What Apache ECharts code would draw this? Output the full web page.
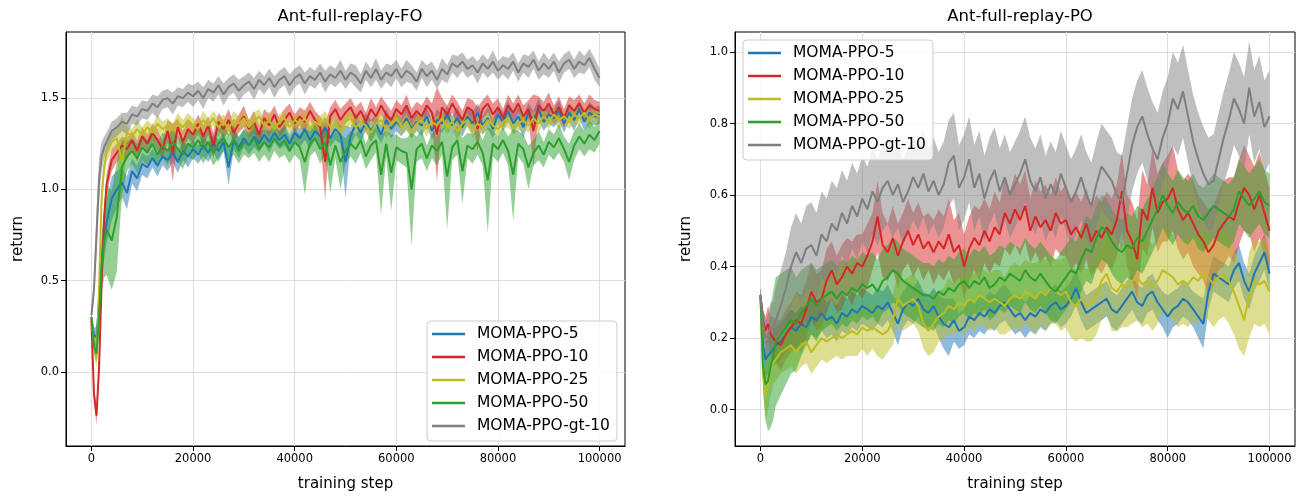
<!DOCTYPE html>
<html>
<head>
<meta charset="utf-8">
<script src="https://cdn.jsdelivr.net/npm/echarts@6/dist/echarts.min.js"></script>
<style>
html, body { margin: 0; padding: 0; background: #fff; }
#main { width: 1309px; height: 497px; }
</style>
</head>
<body>
<div id="main"></div>
<script>
// training steps: dense at the start, then every 1000
var steps = [0, 500, 1000, 1500, 2000, 2500, 3000];
for (var s = 4000; s <= 100000; s += 1000) steps.push(s);

var names = ['MOMA-PPO-5', 'MOMA-PPO-10', 'MOMA-PPO-25', 'MOMA-PPO-50', 'MOMA-PPO-gt-10'];
var colors = ['#1f77b4', '#d62728', '#bcbd22', '#2ca02c', '#7f7f7f'];

var xTicks = [0, 20000, 40000, 60000, 80000, 100000];
var foTicks = [0, 0.5, 1.0, 1.5];
var poTicks = [0, 0.2, 0.4, 0.6, 0.8, 1.0];

// ---- Ant-full-replay-FO ----
var fo5 = [0.30,0.20,0.19,0.38,0.60,0.74,0.82,
0.95,1.00,1.04,0.98,1.10,1.06,1.14,
1.12,1.17,1.13,1.18,1.16,1.20,1.15,1.21,1.18,1.22,
1.19,1.24,1.20,1.25,1.21,1.26,1.12,1.27,1.23,1.28,
1.24,1.29,1.25,1.30,1.26,1.31,1.27,1.30,1.25,1.31,
1.28,1.33,1.27,1.32,1.29,1.34,1.28,1.33,1.30,1.15,
1.29,1.36,1.31,1.37,1.32,1.36,1.30,1.38,1.33,1.37,
1.34,1.39,1.33,1.37,1.35,1.40,1.32,1.38,1.36,1.41,
1.35,1.39,1.34,1.40,1.36,1.42,1.35,1.39,1.33,1.41,
1.37,1.43,1.36,1.40,1.34,1.42,1.38,1.44,1.37,1.41,
1.39,1.43,1.36,1.42,1.38,1.44,1.37,1.42,1.40,1.41];
var fo5sd = [0.02,0.04,0.06,0.10,0.12,0.12,0.12,
0.12,0.10,0.08,0.09,0.07,0.07,0.06,
0.06,0.05,0.06,0.05,0.06,0.05,0.06,0.05,0.06,0.05,
0.05,0.06,0.05,0.05,0.06,0.05,0.10,0.05,0.06,0.05,
0.05,0.06,0.05,0.05,0.06,0.05,0.05,0.06,0.05,0.05,
0.05,0.06,0.05,0.05,0.06,0.05,0.05,0.06,0.05,0.20,
0.05,0.06,0.05,0.05,0.06,0.05,0.05,0.06,0.05,0.05,
0.05,0.06,0.05,0.05,0.06,0.05,0.05,0.06,0.05,0.05,
0.05,0.06,0.05,0.05,0.06,0.05,0.05,0.06,0.05,0.05,
0.05,0.06,0.05,0.05,0.06,0.05,0.05,0.06,0.05,0.05,
0.05,0.06,0.05,0.05,0.06,0.05,0.05,0.06,0.05,0.05];

var fo10 = [0.28,-0.12,-0.24,0.02,0.48,0.84,1.03,
1.16,1.20,1.24,1.22,1.27,1.21,1.29,
1.25,1.31,1.27,1.22,1.32,1.20,1.34,1.26,1.33,1.30,
1.36,1.29,1.35,1.24,1.37,1.33,1.38,1.31,1.36,1.40,
1.33,1.37,1.30,1.39,1.35,1.41,1.34,1.38,1.42,1.36,
1.40,1.37,1.43,1.38,1.34,1.15,1.40,1.44,1.38,1.42,
1.45,1.39,1.43,1.37,1.44,1.40,1.46,1.41,1.38,1.44,
1.41,1.46,1.39,1.43,1.40,1.46,1.42,1.30,1.45,1.41,
1.47,1.42,1.38,1.45,1.43,1.33,1.44,1.47,1.41,1.45,
1.39,1.46,1.42,1.47,1.40,1.44,1.32,1.46,1.43,1.47,
1.41,1.45,1.39,1.46,1.43,1.47,1.42,1.46,1.44,1.43];
var fo10sd = [0.02,0.04,0.05,0.06,0.06,0.06,0.06,
0.06,0.05,0.05,0.06,0.05,0.06,0.05,
0.05,0.05,0.06,0.05,0.06,0.16,0.05,0.06,0.05,0.05,
0.05,0.06,0.05,0.07,0.05,0.05,0.06,0.05,0.05,0.06,
0.05,0.06,0.05,0.05,0.06,0.05,0.05,0.06,0.05,0.05,
0.05,0.06,0.05,0.05,0.06,0.21,0.05,0.05,0.06,0.05,
0.05,0.06,0.05,0.05,0.06,0.05,0.05,0.06,0.05,0.05,
0.05,0.06,0.05,0.05,0.06,0.05,0.05,0.26,0.05,0.05,
0.05,0.06,0.05,0.05,0.06,0.12,0.05,0.05,0.06,0.05,
0.05,0.06,0.05,0.05,0.06,0.05,0.20,0.05,0.05,0.06,
0.05,0.06,0.05,0.05,0.06,0.05,0.05,0.06,0.05,0.05];

var fo25 = [0.30,0.15,0.07,0.45,0.95,1.12,1.20,
1.26,1.28,1.15,1.31,1.29,1.33,1.30,
1.34,1.31,1.36,1.33,1.35,1.32,1.37,1.34,1.38,1.35,
1.33,1.38,1.35,1.39,1.34,1.37,1.33,1.38,1.36,1.39,
1.34,1.37,1.40,1.35,1.38,1.33,1.37,1.39,1.34,1.38,
1.36,1.39,1.33,1.37,1.35,1.39,1.34,1.36,1.32,1.37,
1.39,1.34,1.37,1.35,1.31,1.36,1.38,1.33,1.36,1.39,
1.34,1.37,1.32,1.36,1.38,1.33,1.37,1.35,1.39,1.34,
1.37,1.32,1.36,1.38,1.33,1.36,1.34,1.38,1.35,1.33,
1.37,1.39,1.34,1.36,1.38,1.35,1.39,1.36,1.40,1.37,
1.41,1.38,1.40,1.37,1.41,1.39,1.42,1.38,1.41,1.40];
var fo25sd = [0.02,0.04,0.05,0.08,0.08,0.06,0.05,
0.05,0.05,0.25,0.04,0.04,0.05,0.04,
0.04,0.04,0.05,0.04,0.04,0.04,0.05,0.04,0.04,0.04,
0.04,0.05,0.04,0.04,0.05,0.04,0.04,0.05,0.04,0.04,
0.04,0.05,0.04,0.04,0.05,0.04,0.04,0.05,0.04,0.04,
0.04,0.05,0.04,0.04,0.05,0.04,0.04,0.05,0.04,0.04,
0.04,0.05,0.04,0.04,0.05,0.04,0.04,0.05,0.04,0.04,
0.04,0.05,0.04,0.04,0.05,0.04,0.04,0.05,0.04,0.04,
0.04,0.05,0.04,0.04,0.05,0.04,0.04,0.05,0.04,0.04,
0.04,0.05,0.04,0.04,0.05,0.04,0.04,0.05,0.04,0.04,
0.04,0.05,0.04,0.04,0.05,0.04,0.04,0.05,0.04,0.04];

var fo50 = [0.30,0.14,0.10,0.30,0.58,0.72,0.78,
0.72,0.85,1.12,1.18,1.21,1.17,1.23,
1.20,1.25,1.19,1.24,1.21,1.26,1.22,1.19,1.25,1.23,
1.27,1.22,1.26,1.20,1.25,1.28,1.23,1.27,1.21,1.26,
1.24,1.28,1.22,1.26,1.23,1.28,1.24,1.27,1.21,1.26,
1.23,1.15,1.25,1.28,1.22,1.26,1.13,1.24,1.15,1.21,
1.25,1.22,1.27,1.18,1.24,1.27,1.08,1.25,1.09,1.23,
1.21,1.20,1.00,1.22,1.25,1.17,1.24,1.21,1.26,1.07,
1.23,1.27,1.10,1.24,1.22,1.26,1.20,1.05,1.25,1.22,
1.27,1.21,1.08,1.25,1.22,1.12,1.20,1.24,1.19,1.26,
1.23,1.28,1.22,1.15,1.24,1.29,1.25,1.30,1.27,1.32];
var fo50sd = [0.02,0.04,0.05,0.10,0.15,0.20,0.25,
0.27,0.30,0.15,0.08,0.07,0.08,0.07,
0.07,0.08,0.07,0.07,0.08,0.07,0.07,0.08,0.07,0.07,
0.07,0.08,0.07,0.07,0.08,0.07,0.07,0.08,0.07,0.07,
0.07,0.08,0.07,0.07,0.08,0.07,0.07,0.08,0.07,0.07,
0.07,0.18,0.07,0.07,0.08,0.07,0.15,0.07,0.15,0.07,
0.07,0.08,0.07,0.07,0.08,0.07,0.22,0.07,0.21,0.07,
0.07,0.08,0.31,0.07,0.08,0.07,0.07,0.08,0.07,0.29,
0.07,0.08,0.18,0.07,0.08,0.07,0.07,0.29,0.07,0.07,
0.07,0.08,0.25,0.07,0.08,0.12,0.07,0.08,0.07,0.07,
0.07,0.08,0.07,0.10,0.08,0.07,0.07,0.08,0.07,0.07];

var foGt10 = [0.31,0.45,0.75,1.05,1.18,1.23,1.26,
1.32,1.34,1.37,1.36,1.41,1.40,1.44,
1.43,1.47,1.45,1.49,1.50,1.47,1.51,1.50,1.53,1.51,
1.54,1.50,1.55,1.53,1.57,1.52,1.56,1.58,1.54,1.57,
1.59,1.55,1.60,1.57,1.61,1.56,1.60,1.62,1.57,1.61,
1.63,1.58,1.62,1.60,1.64,1.59,1.63,1.61,1.65,1.60,
1.64,1.62,1.58,1.65,1.61,1.66,1.60,1.64,1.62,1.66,
1.61,1.65,1.63,1.59,1.66,1.62,1.65,1.60,1.66,1.63,
1.69,1.67,1.70,1.66,1.68,1.64,1.69,1.66,1.70,1.65,
1.68,1.66,1.70,1.64,1.69,1.67,1.71,1.65,1.69,1.66,
1.70,1.64,1.69,1.71,1.66,1.70,1.68,1.72,1.66,1.61];
var foGt10sd = [0.02,0.06,0.12,0.12,0.08,0.06,0.05,
0.05,0.05,0.05,0.06,0.05,0.05,0.05,
0.05,0.05,0.06,0.05,0.05,0.06,0.05,0.05,0.05,0.06,
0.05,0.06,0.05,0.05,0.05,0.06,0.05,0.05,0.06,0.05,
0.05,0.06,0.05,0.05,0.05,0.06,0.05,0.05,0.06,0.05,
0.05,0.06,0.05,0.05,0.05,0.06,0.05,0.05,0.06,0.05,
0.05,0.06,0.05,0.05,0.05,0.06,0.05,0.05,0.06,0.05,
0.05,0.06,0.05,0.05,0.05,0.06,0.05,0.05,0.06,0.05,
0.05,0.06,0.05,0.05,0.05,0.06,0.05,0.05,0.06,0.05,
0.05,0.06,0.05,0.05,0.05,0.06,0.05,0.05,0.06,0.05,
0.05,0.06,0.05,0.05,0.05,0.06,0.05,0.05,0.06,0.05];

// ---- Ant-full-replay-PO ----
var po5 = [0.32,0.18,0.14,0.15,0.16,0.17,0.18,
0.19,0.21,0.23,0.22,0.24,0.23,0.26,
0.25,0.27,0.25,0.26,0.24,0.27,0.26,0.28,0.27,0.29,
0.28,0.27,0.29,0.28,0.30,0.27,0.24,0.28,0.30,0.29,
0.31,0.28,0.27,0.29,0.26,0.24,0.23,0.25,0.22,0.23,
0.26,0.25,0.27,0.26,0.28,0.27,0.29,0.30,0.28,0.26,
0.27,0.25,0.27,0.26,0.28,0.27,0.29,0.30,0.28,0.29,
0.31,0.34,0.30,0.27,0.28,0.29,0.30,0.31,0.28,0.27,
0.29,0.31,0.33,0.30,0.29,0.32,0.33,0.30,0.28,0.26,
0.28,0.29,0.31,0.30,0.28,0.26,0.24,0.33,0.38,0.37,
0.36,0.35,0.39,0.41,0.36,0.33,0.38,0.41,0.44,0.38];
var po5sd = [0.02,0.04,0.05,0.05,0.05,0.05,0.05,
0.05,0.05,0.05,0.05,0.05,0.05,0.05,
0.05,0.05,0.05,0.05,0.05,0.05,0.05,0.05,0.05,0.05,
0.05,0.05,0.05,0.05,0.05,0.05,0.06,0.05,0.05,0.05,
0.05,0.05,0.05,0.05,0.06,0.07,0.08,0.06,0.05,0.05,
0.05,0.05,0.05,0.05,0.05,0.05,0.05,0.05,0.05,0.05,
0.05,0.05,0.05,0.05,0.05,0.05,0.05,0.05,0.05,0.05,
0.05,0.05,0.05,0.05,0.05,0.05,0.05,0.05,0.05,0.05,
0.05,0.05,0.05,0.05,0.05,0.05,0.05,0.05,0.05,0.06,
0.05,0.05,0.05,0.05,0.05,0.06,0.07,0.05,0.05,0.05,
0.05,0.05,0.05,0.05,0.05,0.05,0.05,0.05,0.05,0.05];

var po10 = [0.32,0.25,0.22,0.24,0.21,0.20,0.19,
0.18,0.21,0.23,0.25,0.24,0.28,0.33,
0.30,0.31,0.36,0.39,0.35,0.37,0.40,0.38,0.41,0.40,
0.43,0.47,0.54,0.46,0.44,0.48,0.43,0.47,0.50,0.46,
0.49,0.45,0.47,0.44,0.47,0.45,0.49,0.44,0.46,0.40,
0.45,0.48,0.46,0.50,0.47,0.51,0.49,0.55,0.52,0.56,
0.53,0.57,0.50,0.54,0.51,0.53,0.50,0.55,0.52,0.53,
0.49,0.51,0.48,0.52,0.47,0.50,0.48,0.51,0.49,0.53,
0.61,0.50,0.47,0.42,0.56,0.53,0.62,0.55,0.58,0.59,
0.62,0.56,0.53,0.55,0.52,0.49,0.47,0.44,0.46,0.50,
0.52,0.54,0.53,0.58,0.62,0.60,0.56,0.60,0.55,0.50];
var po10sd = [0.02,0.03,0.04,0.05,0.05,0.06,0.06,
0.07,0.07,0.07,0.08,0.08,0.08,0.08,
0.08,0.08,0.09,0.08,0.08,0.09,0.08,0.09,0.08,0.09,
0.09,0.08,0.10,0.09,0.08,0.09,0.09,0.08,0.09,0.09,
0.09,0.09,0.08,0.09,0.09,0.09,0.10,0.09,0.09,0.09,
0.09,0.09,0.10,0.09,0.09,0.10,0.09,0.10,0.09,0.10,
0.10,0.10,0.09,0.10,0.10,0.10,0.10,0.10,0.09,0.10,
0.10,0.10,0.10,0.10,0.10,0.10,0.10,0.10,0.10,0.10,
0.11,0.10,0.11,0.11,0.11,0.10,0.11,0.11,0.11,0.12,
0.12,0.11,0.11,0.11,0.12,0.11,0.11,0.12,0.11,0.11,
0.12,0.11,0.12,0.12,0.12,0.11,0.12,0.12,0.12,0.12];

var po25 = [0.32,0.10,0.04,0.07,0.11,0.13,0.14,
0.16,0.17,0.18,0.16,0.18,0.19,0.16,
0.18,0.20,0.19,0.20,0.21,0.20,0.21,0.22,0.21,0.23,
0.22,0.23,0.22,0.21,0.22,0.25,0.31,0.29,0.30,0.31,
0.29,0.24,0.22,0.24,0.26,0.27,0.29,0.28,0.30,0.29,
0.31,0.30,0.32,0.31,0.30,0.31,0.30,0.29,0.31,0.32,
0.31,0.33,0.32,0.31,0.33,0.32,0.34,0.33,0.32,0.33,
0.30,0.29,0.31,0.29,0.30,0.32,0.36,0.38,0.34,0.33,
0.35,0.34,0.36,0.37,0.35,0.36,0.34,0.36,0.39,0.38,
0.37,0.35,0.36,0.35,0.37,0.36,0.38,0.37,0.35,0.37,
0.38,0.36,0.33,0.29,0.25,0.32,0.36,0.35,0.36,0.33];
var po25sd = [0.02,0.05,0.07,0.07,0.07,0.06,0.06,
0.06,0.06,0.06,0.06,0.06,0.06,0.06,
0.06,0.06,0.06,0.06,0.06,0.06,0.06,0.07,0.06,0.06,
0.07,0.06,0.07,0.07,0.06,0.07,0.07,0.07,0.07,0.07,
0.07,0.07,0.07,0.08,0.07,0.07,0.08,0.07,0.08,0.08,
0.08,0.08,0.08,0.08,0.08,0.08,0.09,0.08,0.09,0.09,
0.09,0.09,0.09,0.10,0.09,0.10,0.10,0.09,0.10,0.10,
0.10,0.10,0.11,0.10,0.11,0.11,0.11,0.11,0.12,0.11,
0.12,0.11,0.12,0.12,0.12,0.12,0.12,0.12,0.12,0.12,
0.12,0.12,0.12,0.12,0.12,0.12,0.12,0.12,0.12,0.12,
0.12,0.12,0.12,0.12,0.10,0.12,0.12,0.12,0.12,0.12];

var po50 = [0.32,0.12,0.07,0.08,0.12,0.15,0.19,
0.21,0.23,0.25,0.24,0.27,0.29,0.31,
0.29,0.31,0.32,0.33,0.31,0.33,0.32,0.34,0.33,0.35,
0.34,0.35,0.33,0.36,0.37,0.39,0.38,0.36,0.35,0.34,
0.33,0.32,0.32,0.31,0.33,0.32,0.34,0.33,0.35,0.36,
0.34,0.36,0.35,0.37,0.34,0.35,0.37,0.36,0.38,0.37,
0.36,0.39,0.37,0.36,0.38,0.36,0.34,0.33,0.35,0.37,
0.39,0.38,0.42,0.45,0.44,0.48,0.51,0.50,0.47,0.45,
0.44,0.46,0.45,0.48,0.47,0.50,0.53,0.56,0.60,0.57,
0.55,0.58,0.56,0.55,0.57,0.54,0.53,0.55,0.57,0.56,
0.55,0.54,0.56,0.61,0.59,0.57,0.59,0.61,0.58,0.57];
var po50sd = [0.02,0.06,0.10,0.14,0.17,0.18,0.18,
0.17,0.16,0.15,0.13,0.12,0.11,0.10,
0.10,0.09,0.09,0.09,0.09,0.09,0.09,0.09,0.09,0.09,
0.09,0.09,0.09,0.09,0.09,0.09,0.09,0.09,0.09,0.09,
0.09,0.09,0.09,0.09,0.09,0.09,0.09,0.09,0.09,0.09,
0.09,0.09,0.09,0.09,0.09,0.09,0.09,0.09,0.09,0.09,
0.09,0.09,0.09,0.09,0.09,0.09,0.09,0.09,0.09,0.09,
0.09,0.09,0.09,0.09,0.09,0.09,0.09,0.09,0.09,0.09,
0.09,0.09,0.09,0.09,0.09,0.09,0.09,0.09,0.09,0.09,
0.09,0.09,0.09,0.09,0.09,0.09,0.09,0.09,0.09,0.09,
0.09,0.09,0.09,0.09,0.09,0.09,0.09,0.09,0.09,0.09];

var poGt10 = [0.32,0.24,0.20,0.21,0.23,0.22,0.25,
0.29,0.34,0.40,0.44,0.41,0.45,0.46,
0.43,0.49,0.47,0.52,0.50,0.55,0.52,0.57,0.54,0.59,
0.56,0.61,0.58,0.62,0.64,0.60,0.63,0.58,0.61,0.65,
0.62,0.66,0.61,0.64,0.60,0.63,0.69,0.71,0.62,0.65,
0.70,0.62,0.66,0.59,0.64,0.67,0.61,0.65,0.60,0.63,
0.66,0.70,0.64,0.61,0.65,0.59,0.63,0.60,0.66,0.62,
0.58,0.61,0.65,0.60,0.57,0.63,0.68,0.66,0.64,0.60,
0.58,0.66,0.74,0.79,0.82,0.77,0.73,0.70,0.76,0.80,
0.87,0.84,0.89,0.82,0.75,0.70,0.66,0.63,0.64,0.70,
0.76,0.81,0.87,0.84,0.80,0.90,0.82,0.86,0.79,0.82];
var poGt10sd = [0.02,0.04,0.05,0.06,0.07,0.08,0.09,
0.10,0.10,0.11,0.11,0.11,0.12,0.12,
0.12,0.12,0.12,0.12,0.12,0.12,0.12,0.12,0.12,0.12,
0.12,0.12,0.12,0.12,0.12,0.12,0.12,0.12,0.12,0.12,
0.12,0.12,0.12,0.12,0.12,0.12,0.12,0.12,0.12,0.12,
0.12,0.12,0.12,0.12,0.12,0.12,0.12,0.12,0.12,0.12,
0.12,0.12,0.12,0.12,0.12,0.12,0.12,0.12,0.12,0.12,
0.12,0.12,0.12,0.12,0.12,0.12,0.12,0.12,0.12,0.12,
0.13,0.13,0.13,0.13,0.13,0.13,0.13,0.13,0.13,0.13,
0.13,0.13,0.13,0.13,0.13,0.13,0.13,0.13,0.13,0.13,
0.13,0.13,0.13,0.13,0.13,0.13,0.13,0.13,0.13,0.13];

var foMeans = [fo5, fo10, fo25, fo50, foGt10];
var foSds = [fo5sd, fo10sd, fo25sd, fo50sd, foGt10sd];
var poMeans = [po5, po10, po25, po50, poGt10];
var poSds = [po5sd, po10sd, po25sd, po50sd, poGt10sd];

var FONT = 'DejaVu Sans';

function bandSeries(name, mean, sd, color, idx) {
  return {
    type: 'custom',
    name: name + ' band',
    xAxisIndex: idx,
    yAxisIndex: idx,
    silent: true,
    data: [[0, 0]],
    renderItem: function (params, api) {
      var pts = [];
      for (var i = 0; i < steps.length; i++) pts.push(api.coord([steps[i], mean[i] + sd[i]]));
      for (var j = steps.length - 1; j >= 0; j--) pts.push(api.coord([steps[j], mean[j] - sd[j]]));
      return { type: 'polygon', shape: { points: pts }, style: { fill: color, opacity: 0.5 } };
    }
  };
}

function lineSeries(name, mean, color, idx) {
  return {
    type: 'line',
    name: name,
    xAxisIndex: idx,
    yAxisIndex: idx,
    data: steps.map(function (x, i) { return [x, mean[i]]; }),
    showSymbol: false,
    symbol: 'none',
    color: color,
    lineStyle: { width: 2, color: color }
  };
}

function xAxis(idx) {
  return {
    type: 'value', gridIndex: idx, min: -5000, max: 105000,
    name: 'training step', nameLocation: 'middle', nameGap: 31,
    nameTextStyle: { fontFamily: FONT, fontSize: 15, color: '#000' },
    axisLine: { show: true, onZero: false, lineStyle: { color: '#000', width: 1 } },
    axisTick: { show: true, customValues: xTicks, length: 5, lineStyle: { color: '#000' } },
    axisLabel: {
      customValues: xTicks, fontFamily: FONT, fontSize: 11.5, color: '#000', margin: 7,
      formatter: function (v) { return String(v); }
    },
    splitLine: { show: true, lineStyle: { color: '#dedede', width: 1 } }
  };
}

function yAxis(idx, min, max, ticks, gap) {
  return {
    type: 'value', gridIndex: idx, min: min, max: max,
    name: 'return', nameLocation: 'middle', nameGap: gap, nameRotate: 90,
    nameTextStyle: { fontFamily: FONT, fontSize: 15, color: '#000' },
    axisLine: { show: true, onZero: false, lineStyle: { color: '#000', width: 1 } },
    axisTick: { show: true, customValues: ticks, length: 5, lineStyle: { color: '#000' } },
    axisLabel: {
      customValues: ticks, fontFamily: FONT, fontSize: 11.5, color: '#000', margin: 7,
      formatter: function (v) { return v.toFixed(1); }
    },
    splitLine: { show: true, lineStyle: { color: '#dedede', width: 1 } }
  };
}

function legend(left, top) {
  return {
    data: names, orient: 'vertical', left: left, top: top,
    icon: 'rect', itemWidth: 33, itemHeight: 2.5, itemGap: 5,
    padding: [4, 7, 6, 5],
    backgroundColor: 'rgba(255,255,255,0.8)',
    borderColor: '#cccccc', borderWidth: 1, borderRadius: 4,
    textStyle: { fontFamily: FONT, fontSize: 15.5, color: '#000', lineHeight: 18, padding: [0, 0, 0, 7] }
  };
}

var series = [];
for (var k = 0; k < 5; k++) series.push(bandSeries(names[k], foMeans[k], foSds[k], colors[k], 0));
for (var k2 = 0; k2 < 5; k2++) series.push(bandSeries(names[k2], poMeans[k2], poSds[k2], colors[k2], 1));
for (var k3 = 0; k3 < 5; k3++) series.push(lineSeries(names[k3], foMeans[k3], colors[k3], 0));
for (var k4 = 0; k4 < 5; k4++) series.push(lineSeries(names[k4], poMeans[k4], colors[k4], 1));

var chart = echarts.init(document.getElementById('main'));
chart.setOption({
  animation: false,
  backgroundColor: '#fff',
  title: [
    { text: 'Ant-full-replay-FO', left: 345, top: 3, textAlign: 'center',
      textStyle: { fontFamily: FONT, fontSize: 16.5, fontWeight: 'normal', color: '#000' } },
    { text: 'Ant-full-replay-PO', left: 1015, top: 3, textAlign: 'center',
      textStyle: { fontFamily: FONT, fontSize: 16.5, fontWeight: 'normal', color: '#000' } }
  ],
  grid: [
    { left: 66, top: 32, width: 559, height: 417, show: true, borderColor: '#000', borderWidth: 1, backgroundColor: '#fff' },
    { left: 735, top: 32, width: 560, height: 417, show: true, borderColor: '#000', borderWidth: 1, backgroundColor: '#fff' }
  ],
  xAxis: [xAxis(0), xAxis(1)],
  yAxis: [yAxis(0, -0.406, 1.862, foTicks, 40), yAxis(1, -0.102, 1.056, poTicks, 41)],
  legend: [legend(427, 321), legend(743, 40)],
  series: series
});
</script>
</body>
</html>
